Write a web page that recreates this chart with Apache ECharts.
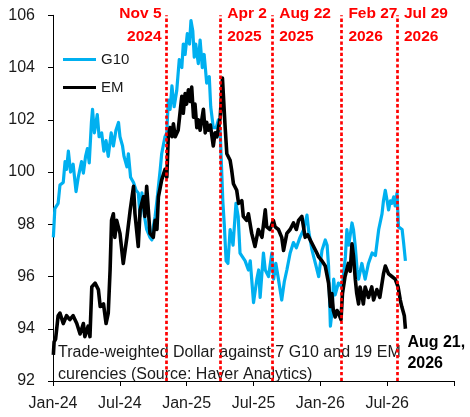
<!DOCTYPE html>
<html>
<head>
<meta charset="utf-8">
<script src="https://cdn.jsdelivr.net/npm/echarts@6/dist/echarts.min.js"></script>
<style>
html,body{margin:0;padding:0;background:#fff;}
#chart{width:470px;height:417px;}
</style>
</head>
<body>
<div id="chart"></div>
<script>
// ---- Data ----
const xTickLabels = ['Jan-24','Jul-24','Jan-25','Jul-25','Jan-26','Jul-26',''];
const yTicks = {min: 92, max: 106, step: 2};

const g10Dates = ['2024-01-02','2024-01-06','2024-01-15','2024-01-20','2024-01-29','2024-02-03','2024-02-07','2024-02-12','2024-02-18','2024-02-25','2024-03-04','2024-03-10','2024-03-19','2024-03-24','2024-03-30','2024-04-04','2024-04-09','2024-04-15','2024-04-18','2024-04-23','2024-05-01','2024-05-06','2024-05-13','2024-05-19','2024-05-25','2024-05-31','2024-06-08','2024-06-14','2024-06-21','2024-06-28','2024-07-02','2024-07-09','2024-07-13','2024-07-21','2024-07-25','2024-07-31','2024-08-08','2024-08-15','2024-08-21','2024-08-26','2024-08-31','2024-09-07','2024-09-13','2024-09-22','2024-09-27','2024-10-01','2024-10-06','2024-10-11','2024-10-20','2024-10-24','2024-11-02','2024-11-07','2024-11-11','2024-11-16','2024-11-21','2024-11-27','2024-12-04','2024-12-11','2024-12-18','2024-12-22','2024-12-27','2025-01-02','2025-01-08','2025-01-12','2025-01-17','2025-01-21','2025-01-25','2025-02-01','2025-02-06','2025-02-12','2025-02-17','2025-02-24','2025-03-03','2025-03-07','2025-03-14','2025-03-22','2025-03-28','2025-04-02','2025-04-09','2025-04-13','2025-04-18','2025-04-23','2025-04-29','2025-05-07','2025-05-15','2025-05-21','2025-05-26','2025-06-09','2025-06-18','2025-06-23','2025-07-02','2025-07-11','2025-07-16','2025-07-20','2025-07-29','2025-08-03','2025-08-12','2025-08-21','2025-08-26','2025-09-01','2025-09-08','2025-09-17','2025-09-24','2025-10-01','2025-10-10','2025-10-19','2025-10-27','2025-11-06','2025-11-16','2025-11-25','2025-11-30','2025-12-09','2025-12-18','2025-12-27','2026-01-05','2026-01-14','2026-01-19','2026-01-23','2026-01-28','2026-02-01','2026-02-06','2026-02-10','2026-02-19','2026-03-01','2026-03-10','2026-03-14','2026-03-19','2026-03-28','2026-04-01','2026-04-06','2026-04-11','2026-04-15','2026-04-24','2026-05-03','2026-05-12','2026-05-22','2026-05-31','2026-06-09','2026-06-18','2026-06-22','2026-06-27','2026-07-02','2026-07-06','2026-07-11','2026-07-15','2026-07-20','2026-07-24','2026-07-29','2026-08-02','2026-08-12','2026-08-16','2026-08-21'];
const g10Values = [97.5,98.6,98.8,99.5,99.6,100.4,100.1,100.8,100.0,100.3,99.25,99.8,100.4,99.96,100.6,100.9,100.35,101.9,102.4,101.5,102.2,101.35,101.5,100.8,101.2,100.6,101.5,101.0,101.6,101.9,101.35,101.0,100.6,100.2,100.7,99.8,99.6,99.3,99.2,98.3,99.2,98.3,97.8,97.5,97.4,97.9,98.3,98.9,100.1,100.7,101.35,101.5,102.75,102.4,103.3,102.5,103.1,104.3,104.0,104.9,104.5,105.3,104.9,105.8,105.4,104.4,104.9,104.15,105.05,104.0,104.5,103.4,103.65,102.5,101.7,101.7,102.0,101.5,98.9,98.0,96.6,96.5,97.8,97.2,98.8,98.3,96.9,96.6,96.25,96.6,95.0,95.9,96.25,95.2,96.9,96.25,96.0,96.9,95.9,96.5,95.9,95.1,95.8,96.25,96.9,97.3,97.1,97.5,97.8,98.35,97.7,97.0,96.5,96.0,97.0,97.4,97.2,96.4,94.1,94.6,95.9,95.3,95.75,95.6,96.75,97.8,97.2,98.05,97.8,97.15,96.25,95.9,96.5,95.9,96.5,96.9,96.8,97.8,98.4,98.9,99.3,98.9,98.55,98.9,98.8,99.05,98.7,99.2,97.9,97.8,97.3,96.6];

const emDates = ['2024-01-02','2024-01-04','2024-01-08','2024-01-15','2024-01-20','2024-01-29','2024-02-07','2024-02-16','2024-02-25','2024-03-06','2024-03-15','2024-03-24','2024-03-28','2024-04-06','2024-04-11','2024-04-16','2024-04-25','2024-05-04','2024-05-09','2024-05-18','2024-05-25','2024-05-31','2024-06-05','2024-06-09','2024-06-14','2024-06-18','2024-06-23','2024-07-02','2024-07-11','2024-07-21','2024-07-30','2024-08-08','2024-08-12','2024-08-21','2024-08-26','2024-09-04','2024-09-08','2024-09-13','2024-09-22','2024-10-01','2024-10-06','2024-10-11','2024-10-15','2024-10-24','2024-11-02','2024-11-07','2024-11-11','2024-11-16','2024-11-21','2024-11-25','2024-11-30','2024-12-08','2024-12-18','2024-12-22','2024-12-27','2024-12-31','2025-01-05','2025-01-10','2025-01-14','2025-01-19','2025-01-23','2025-01-28','2025-02-01','2025-02-06','2025-02-15','2025-02-20','2025-02-24','2025-02-28','2025-03-06','2025-03-14','2025-03-19','2025-03-24','2025-04-02','2025-04-08','2025-04-15','2025-04-20','2025-04-29','2025-05-03','2025-05-08','2025-05-17','2025-05-22','2025-05-31','2025-06-04','2025-06-13','2025-06-18','2025-06-27','2025-07-06','2025-07-15','2025-07-25','2025-08-03','2025-08-07','2025-08-16','2025-08-25','2025-08-30','2025-09-08','2025-09-17','2025-09-22','2025-10-01','2025-10-10','2025-10-19','2025-10-27','2025-11-02','2025-11-11','2025-11-20','2025-11-27','2025-12-04','2025-12-13','2025-12-22','2025-12-27','2026-01-05','2026-01-14','2026-01-23','2026-01-28','2026-02-01','2026-02-05','2026-02-10','2026-02-15','2026-02-19','2026-02-26','2026-03-02','2026-03-09','2026-03-18','2026-03-23','2026-03-28','2026-04-01','2026-04-06','2026-04-10','2026-04-15','2026-04-19','2026-04-24','2026-04-28','2026-05-03','2026-05-12','2026-05-21','2026-05-26','2026-06-04','2026-06-12','2026-06-22','2026-06-27','2026-07-06','2026-07-15','2026-07-24','2026-08-01','2026-08-07','2026-08-11','2026-08-16','2026-08-18','2026-08-21'];
const emValues = [93.0,93.5,93.6,94.5,94.6,94.2,94.5,94.35,94.5,94.2,93.8,94.2,93.7,94.1,93.7,95.6,95.75,95.5,94.85,94.95,94.2,94.6,96.25,98.15,98.4,97.5,98.15,97.65,96.5,97.5,98.55,99.45,98.4,97.15,98.55,99.05,98.3,99.45,97.65,97.5,98.15,97.8,99.05,99.7,100.1,99.8,101.35,101.7,101.35,101.85,101.35,101.6,102.9,102.25,103.0,102.6,103.15,102.7,103.25,102.1,102.6,101.7,102.0,101.6,102.4,101.5,101.9,101.6,101.8,101.0,101.5,101.35,102.1,103.6,101.8,100.7,100.45,100.1,99.55,99.3,98.8,98.9,98.3,98.15,98.4,97.65,97.15,97.8,97.5,98.55,97.9,97.8,98.15,97.9,97.8,97.5,97.0,97.65,97.8,98.05,97.8,98.15,98.3,97.5,97.6,97.4,97.15,96.9,96.75,96.6,96.4,95.75,94.85,95.35,94.7,94.45,94.7,94.6,94.35,95.35,96.0,96.5,96.2,97.25,96.8,95.9,95.35,94.95,95.6,95.3,94.95,95.6,95.2,95.6,95.1,95.5,95.2,96.1,96.4,96.1,96.0,95.9,95.6,95.1,94.85,94.6,94.5,94.0];

const eventDates = ['2024-11-05','2025-04-02','2025-08-22','2026-02-27','2026-07-29'];
const eventLabels = ['Nov 5\n2024','Apr 2\n2025','Aug 22\n2025','Feb 27\n2026','Jul 29\n2026'];
const endLabel = 'Aug 21,\n2026';
const noteText = 'Trade-weighted Dollar against 7 G10 and 19 EM\ncurencies (Source: Haver Analytics)';
const axisStart = '2024-01-01';

// ---- Helpers ----
const START = Date.parse(axisStart);
const dayOf = d => (Date.parse(d) - START) / 86400000;
const HALF_YEAR = 182.625;
const FONT = '"Liberation Sans", Arial, sans-serif';

const chart = echarts.init(document.getElementById('chart'), null, {renderer: 'canvas'});

chart.setOption({
  animation: false,
  backgroundColor: '#ffffff',
  grid: {left: 53, right: 16, top: 15.3, bottom: 36, containLabel: false},
  legend: {
    data: [{name: 'G10', icon: 'rect'}, {name: 'EM', icon: 'rect'}],
    orient: 'vertical',
    left: 63, top: 52, padding: 0,
    itemWidth: 33, itemHeight: 3.2, itemGap: 13,
    textStyle: {fontSize: 15, color: '#1a1a1a', fontFamily: FONT},
    selectedMode: false
  },
  xAxis: {
    type: 'value',
    min: 0, max: HALF_YEAR * (xTickLabels.length - 1), interval: HALF_YEAR,
    axisLine: {show: true, lineStyle: {color: '#000', width: 1}},
    axisTick: {show: true, inside: false, length: 5, lineStyle: {color: '#000'}},
    splitLine: {show: false},
    axisLabel: {
      fontSize: 16, color: '#1a1a1a', fontFamily: FONT, margin: 15,
      formatter: v => xTickLabels[Math.round(v / HALF_YEAR)] || ''
    }
  },
  yAxis: {
    type: 'value',
    min: yTicks.min, max: yTicks.max, interval: yTicks.step,
    axisLine: {show: true, lineStyle: {color: '#000', width: 1}},
    axisTick: {show: true, inside: false, length: 5, lineStyle: {color: '#000'}},
    splitLine: {show: false},
    axisLabel: {fontSize: 16, color: '#1a1a1a', fontFamily: FONT, margin: 18}
  },
  series: [
    {
      name: 'G10', type: 'line', symbol: 'none', z: 2,
      data: g10Dates.map((d, i) => [dayOf(d), g10Values[i]]),
      lineStyle: {color: '#00B0F0', width: 3.2, join: 'round'},
      itemStyle: {color: '#00B0F0'}
    },
    {
      name: 'EM', type: 'line', symbol: 'none', z: 3,
      data: emDates.map((d, i) => [dayOf(d), emValues[i]]),
      lineStyle: {color: '#000000', width: 3.6, join: 'round'},
      itemStyle: {color: '#000000'}
    },
    {
      name: 'events', type: 'line', data: [], z: 5,
      markLine: {
        silent: true, symbol: ['none', 'none'], animation: false,
        label: {show: false},
        lineStyle: {color: '#FF0000', width: 2.7, type: [3.3, 2.4]},
        data: eventDates.map(d => ({xAxis: dayOf(d)}))
      }
    }
  ]
});

// ---- Annotations positioned through the axis scale ----
const graphics = [];
eventDates.forEach((d, i) => {
  const px = chart.convertToPixel({xAxisIndex: 0}, dayOf(d));
  const left = i !== 0;
  graphics.push({
    type: 'text', z: 10,
    x: left ? px + 7 : px - 4.5, y: 2.5,
    style: {
      text: eventLabels[i], fill: '#FF0000',
      font: 'bold 15.5px ' + FONT, lineHeight: 22.5,
      align: left ? 'left' : 'right', verticalAlign: 'top'
    }
  });
});
const lastX = chart.convertToPixel({xAxisIndex: 0}, dayOf(emDates[emDates.length - 1]));
graphics.push({
  type: 'text', z: 10, x: lastX + 2, y: 332.4,
  style: {text: endLabel, fill: '#000', font: 'bold 16px ' + FONT, lineHeight: 20.6, align: 'left', verticalAlign: 'top'}
});
graphics.push({
  type: 'text', z: 0, zlevel: 0, x: 58, y: 341.5,
  style: {text: noteText, fill: '#1a1a1a', font: '16px ' + FONT, lineHeight: 22.3, align: 'left', verticalAlign: 'top'}
});
chart.setOption({graphic: graphics});
</script>
</body>
</html>
